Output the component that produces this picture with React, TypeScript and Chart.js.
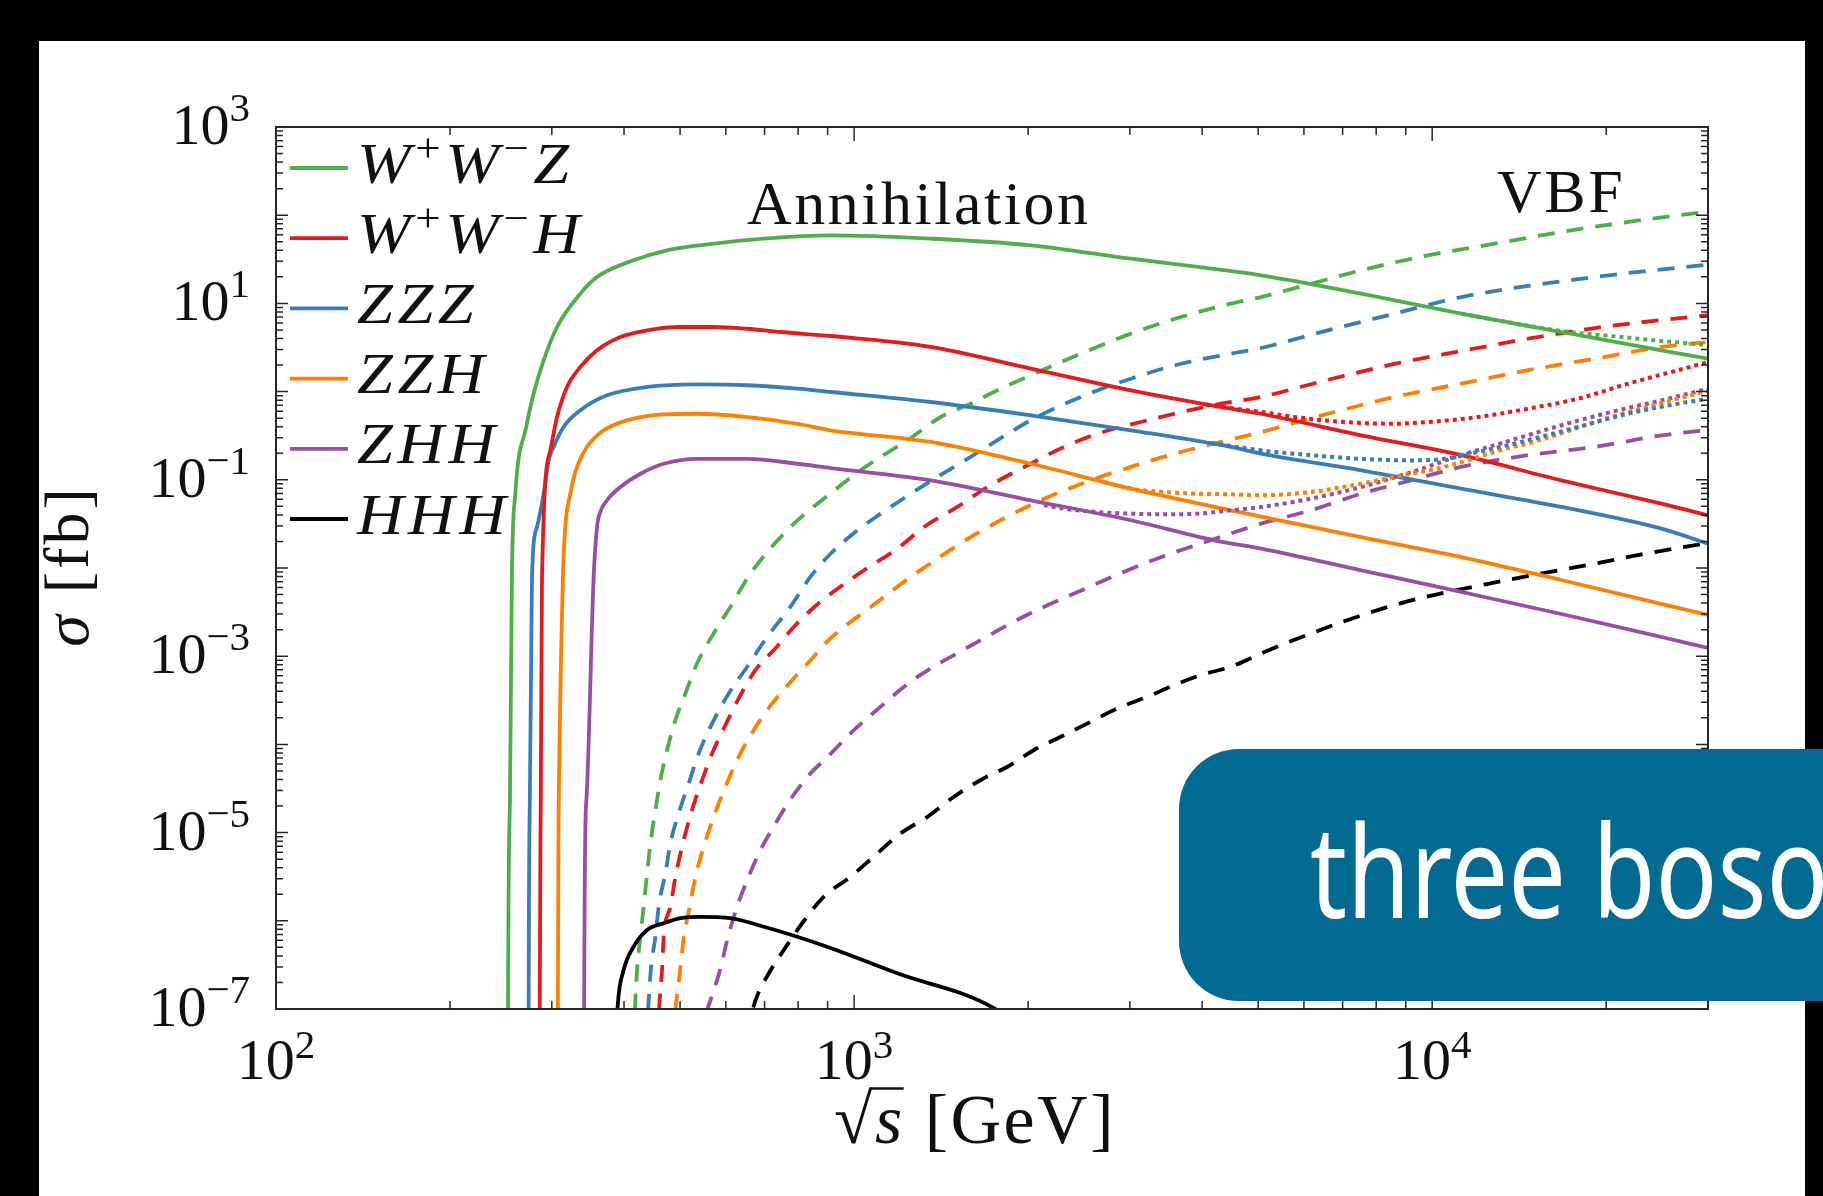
import React, { useEffect, useRef } from "react";
import { Chart, registerables } from "chart.js";

Chart.register(...registerables);

const W = 1823;
const H = 1196;

// ---------- axis settings ----------
const X_MIN = 100;
const X_MAX = 30000;
const Y_MIN = 1e-7;
const Y_MAX = 1e3;
const xTickValues = [100, 1000, 10000];
const xTickExps = ["2", "3", "4"];
const yTickValues = [1e3, 1e1, 1e-1, 1e-3, 1e-5, 1e-7];
const yTickExps = ["3", "1", "\u22121", "\u22123", "\u22125", "\u22127"];

// ---------- annihilation (solid) : sqrt(s) [GeV], sigma [fb] ----------
const wwzAnnE = [251.8, 252.0, 253.9, 255.9, 259.4, 270.9, 279, 290.4, 306.3, 336.1, 359.2, 415.6, 474.9, 571.8, 698, 910.7, 1357, 2021, 3011, 3930, 5057, 7537, 11226, 16730, 24920, 30000];
const wwzAnnS = [1e-9, 1e-7, 2.3e-5, 7.9e-3, 0.0695, 0.397, 0.946, 2.26, 5.4, 12.9, 19.9, 30.8, 40.0, 47.5, 54.2, 59.1, 54.2, 45.6, 32.1, 25.9, 20.8, 12.9, 7.64, 4.74, 2.94, 2.36];

const wwhAnnE = [285.7, 285.9, 287.1, 288.5, 298.2, 306.3, 318.7, 336.1, 359.2, 394.2, 438.5, 500.6, 571.8, 653.3, 745.9, 910.7, 1357, 2021, 3011, 4486, 5057, 7537, 11226, 16730, 24920, 30000];
const wwhAnnS = [1e-9, 1e-7, 2.3e-5, 7.9e-3, 0.216, 0.515, 1.13, 1.9, 2.94, 4.16, 4.95, 5.4, 5.4, 5.16, 4.74, 4.27, 3.21, 1.82, 1.035, 0.64, 0.561, 0.319, 0.19, 0.0986, 0.0536, 0.0395];

const zzzAnnE = [273.4, 273.6, 274.8, 277.2, 282.8, 290.4, 296.2, 302.2, 314.4, 336.1, 373.8, 438.5, 535.2, 653.3, 797.3, 910.7, 1357, 2021, 3011, 4486, 5057, 7537, 11226, 16730, 24920, 30000];
const zzzAnnS = [1e-9, 1e-7, 2.3e-5, 7.9e-3, 0.0292, 0.0695, 0.166, 0.236, 0.397, 0.614, 0.908, 1.13, 1.21, 1.18, 1.08, 0.99, 0.762, 0.538, 0.364, 0.236, 0.198, 0.128, 0.0793, 0.0492, 0.0279, 0.0189];

const zzhAnnE = [307.2, 307.3, 308.4, 313.6, 316.5, 322.9, 331.6, 345.1, 368.8, 404.9, 468.5, 535.2, 653.3, 797.3, 910.7, 1357, 2021, 3011, 4486, 7537, 11226, 16730, 30000];
const zzhAnnS = [1e-9, 1e-7, 2.3e-5, 7.9e-3, 0.0292, 0.0695, 0.14, 0.236, 0.364, 0.473, 0.553, 0.561, 0.515, 0.432, 0.364, 0.269, 0.152, 0.0793, 0.0451, 0.0224, 0.0133, 0.00731, 0.00293];

const zhhAnnE = [341.1, 341.2, 344.2, 354.4, 359.2, 363.9, 373.8, 394.2, 426.9, 468.5, 535.2, 653.3, 797.3, 910.7, 1357, 2021, 3011, 4198, 5057, 7537, 11226, 16730, 24920, 30000];
const zhhAnnS = [1e-9, 1e-7, 2.3e-5, 7.9e-3, 0.0292, 0.0431, 0.0586, 0.0828, 0.117, 0.152, 0.173, 0.173, 0.152, 0.136, 0.0986, 0.0586, 0.0348, 0.0206, 0.0166, 0.00942, 0.00535, 0.00301, 0.00165, 0.00124];

const hhhAnnE = [378, 389.9, 399.4, 415.6, 438.5, 468.5, 500.6, 542.3, 611.1, 698, 797.3, 910.7, 1188, 1746, 1850];
const hhhAnnS = [1e-9, 1.06e-7, 2.77e-7, 5.09e-7, 7.87e-7, 9.38e-7, 1.07e-6, 1.11e-6, 1.07e-6, 8.57e-7, 6.6e-7, 4.92e-7, 2.54e-7, 1.02e-7, 7.5e-8];

// ---------- VBF (dashed) ----------
const wwzVbfE = [415.1, 418.4, 421.3, 426.9, 432.5, 438.5, 444.3, 453.3, 462.3, 474.9, 490.9, 510.9, 535.2, 571.8, 611.1, 662.1, 776.3, 903.5, 1026, 1112, 1237, 1412, 1591, 1770, 2021, 2467, 3011, 3676, 4486, 5057, 6172, 7537, 9829, 12823, 16730, 21827, 30000];
const wwzVbfS = [4.5e-8, 1.26e-7, 2.77e-7, 6.6e-7, 1.45e-6, 3.46e-6, 7.57e-6, 1.8e-5, 3.95e-5, 8.64e-5, 1.89e-4, 3.8e-4, 8.31e-4, 1.82e-3, 3.64e-3, 8.67e-3, 0.0292, 0.0673, 0.128, 0.182, 0.281, 0.515, 0.73, 1.035, 1.53, 2.69, 4.54, 7.01, 9.93, 11.8, 16.7, 23.7, 35.1, 47.5, 64.6, 83.8, 110];

const zzzVbfE = [436.3, 441.3, 445.5, 453.3, 459.2, 471.6, 481.2, 497.3, 517.6, 538.7, 568.3, 607.2, 653.3, 707.6, 776.3, 840.8, 910.7, 1013, 1112, 1253, 1394, 1591, 1770, 2021, 2467, 3011, 3676, 4486, 5057, 6598, 8604, 11226, 19100, 30000];
const zzzVbfS = [4.5e-8, 1.26e-7, 3.02e-7, 6.6e-7, 1.45e-6, 3.46e-6, 7.57e-6, 1.66e-5, 3.62e-5, 7.93e-5, 1.73e-4, 3.8e-4, 7.6e-4, 1.66e-3, 3.64e-3, 7.98e-3, 0.0145, 0.0267, 0.0413, 0.0695, 0.108, 0.182, 0.281, 0.473, 0.869, 1.4, 2.07, 2.69, 3.12, 4.95, 7.64, 11.8, 19.9, 27.6];

const wwhVbfE = [456.8, 461.0, 465.5, 468.5, 481.2, 490.9, 504.1, 521.1, 542.3, 568.3, 599.1, 631.7, 675.4, 731.3, 792.0, 875.0, 1040, 1188, 1321, 1509, 1701, 2021, 2308, 2637, 3218, 4198, 5057, 6598, 8604, 11226, 14646, 19100, 30000];
const wwhVbfS = [4.5e-8, 1.26e-7, 2.89e-7, 6.6e-7, 1.45e-6, 3.16e-6, 6.92e-6, 1.58e-5, 3.47e-5, 7.93e-5, 1.66e-4, 3.33e-4, 6.98e-4, 1.23e-3, 2.26e-3, 4.15e-3, 9.42e-3, 0.0166, 0.0292, 0.0492, 0.0828, 0.152, 0.236, 0.333, 0.473, 0.705, 0.869, 1.36, 2.06, 2.88, 3.98, 5.26, 7.38];

const zzhVbfE = [483, 492.9, 500.6, 507.3, 519.6, 531.5, 549.4, 571.8, 599.1, 631.7, 670.9, 721.8, 781.7, 846.6, 904.5, 1068, 1253, 1591, 2021, 2467, 3011, 3676, 5057, 6598, 8604, 11226, 14646, 19100, 24920, 30000];
const zzhVbfS = [4.5e-8, 1.26e-7, 2.89e-7, 6.34e-7, 1.45e-6, 3.16e-6, 6.92e-6, 1.51e-5, 3.31e-5, 7.26e-5, 1.46e-4, 2.92e-4, 5.37e-4, 9.46e-4, 1.53e-3, 3.61e-3, 7.9e-3, 0.0224, 0.0518, 0.0895, 0.14, 0.207, 0.348, 0.561, 0.869, 1.23, 1.75, 2.36, 3.21, 3.65];

const zhhVbfE = [533.7, 564.4, 587.3, 603.2, 627.7, 653.3, 688.8, 731.3, 781.7, 840.8, 907.1, 986.1, 1112, 1220, 1357, 1509, 1678, 1866, 2103, 2371, 2637, 2932, 3440, 4198, 5057, 6172, 7537, 9198, 11226, 14646, 19100, 24920, 30000];
const zhhVbfS = [4.45e-8, 1.26e-7, 2.89e-7, 6.05e-7, 1.45e-6, 2.9e-6, 6.35e-6, 1.27e-5, 2.55e-5, 4.7e-5, 7.59e-5, 1.34e-4, 2.68e-4, 4.51e-4, 7.29e-4, 1.08e-3, 1.6e-3, 2.36e-3, 3.49e-3, 4.94e-3, 6.71e-3, 9.08e-3, 0.0137, 0.0213, 0.0318, 0.0451, 0.0695, 0.0986, 0.14, 0.19, 0.236, 0.319, 0.367];

const hhhVbfE = [650, 675.4, 712.0, 755.9, 813.2, 886.7, 986.1, 1097, 1204, 1339, 1489, 1656, 1842, 2048, 2278, 2568, 2856, 3218, 3579, 3981, 4486, 4991, 5477, 8663, 13754, 19100, 23320, 30000];
const hhhVbfS = [5e-8, 1.26e-7, 2.54e-7, 4.67e-7, 9.38e-7, 1.88e-6, 3.16e-6, 5.82e-6, 9.82e-6, 1.51e-5, 2.55e-5, 3.95e-5, 5.58e-5, 8.64e-5, 1.22e-4, 1.81e-4, 2.56e-4, 3.47e-4, 4.71e-4, 6.12e-4, 7.6e-4, 1.03e-3, 1.34e-3, 3.85e-3, 7.5e-3, 0.0112, 0.0145, 0.0192];

// ---------- dotted curves ----------
const wwzDotE = [11226, 16730, 21250, 24920, 30000];
const wwzDotS = [7.64, 4.86, 4.16, 3.75, 3.37];

const wwhDotE = [4062, 5057, 5776, 7050, 8604, 9829, 11999, 14646, 17877, 21827, 26650, 30000];
const wwhDotS = [0.705, 0.588, 0.515, 0.452, 0.432, 0.452, 0.515, 0.64, 0.83, 1.23, 1.75, 2.17];

const zzzDotE = [4143, 5057, 6172, 7537, 9198, 10505, 11999, 14646, 17877, 21827, 26650, 30000];
const zzzDotS = [0.261, 0.216, 0.19, 0.173, 0.166, 0.173, 0.207, 0.281, 0.397, 0.561, 0.73, 0.83];

const zzhDotE = [2707, 3011, 3440, 3930, 4486, 5057, 6172, 7537, 8604, 10505, 12823, 15650, 19620, 24920, 30000];
const zzhDotS = [0.0944, 0.0793, 0.0728, 0.0695, 0.0685, 0.0668, 0.0728, 0.0904, 0.108, 0.14, 0.207, 0.292, 0.476, 0.743, 1.02];

const zhhDotE = [2129, 2308, 2637, 3011, 3440, 3930, 4486, 5057, 6172, 7537, 9198, 11226, 13702, 16730, 20420, 24920, 30000];
const zhhDotS = [0.0518, 0.047, 0.0431, 0.0413, 0.0407, 0.0413, 0.0451, 0.0492, 0.0611, 0.0828, 0.122, 0.19, 0.281, 0.415, 0.588, 0.796, 1.08];

// ---------- styling ----------
const GREEN = "#4daf4a";
const RED = "#e41a1c";
const BLUE = "#377eb8";
const ORANGE = "#ff7f00";
const PURPLE = "#984ea3";
const BLACK = "#000000";

const legendColors = [GREEN, RED, BLUE, ORANGE, PURPLE, BLACK];
type Part = { t: string; sup?: boolean; it?: boolean };
const legendLabels: Part[][] = [
  [{ t: "W" }, { t: "+", sup: true, it: false }, { t: "W" }, { t: "\u2212", sup: true, it: false }, { t: "Z" }],
  [{ t: "W" }, { t: "+", sup: true, it: false }, { t: "W" }, { t: "\u2212", sup: true, it: false }, { t: "H" }],
  [{ t: "ZZZ" }],
  [{ t: "ZZH" }],
  [{ t: "ZHH" }],
  [{ t: "HHH" }],
];

type Style = "solid" | "dash" | "dot";
const SERIES: { e: number[]; s: number[]; c: string; st: Style }[] = [
  { e: wwzDotE, s: wwzDotS, c: GREEN, st: "dot" },
  { e: wwhDotE, s: wwhDotS, c: RED, st: "dot" },
  { e: zzzDotE, s: zzzDotS, c: BLUE, st: "dot" },
  { e: zzhDotE, s: zzhDotS, c: ORANGE, st: "dot" },
  { e: zhhDotE, s: zhhDotS, c: PURPLE, st: "dot" },
  { e: wwzAnnE, s: wwzAnnS, c: GREEN, st: "solid" },
  { e: wwhAnnE, s: wwhAnnS, c: RED, st: "solid" },
  { e: zzzAnnE, s: zzzAnnS, c: BLUE, st: "solid" },
  { e: zzhAnnE, s: zzhAnnS, c: ORANGE, st: "solid" },
  { e: zhhAnnE, s: zhhAnnS, c: PURPLE, st: "solid" },
  { e: hhhAnnE, s: hhhAnnS, c: BLACK, st: "solid" },
  { e: wwzVbfE, s: wwzVbfS, c: GREEN, st: "dash" },
  { e: zzzVbfE, s: zzzVbfS, c: BLUE, st: "dash" },
  { e: wwhVbfE, s: wwhVbfS, c: RED, st: "dash" },
  { e: zzhVbfE, s: zzhVbfS, c: ORANGE, st: "dash" },
  { e: zhhVbfE, s: zhhVbfS, c: PURPLE, st: "dash" },
  { e: hhhVbfE, s: hhhVbfS, c: BLACK, st: "dash" },
];

const SERIF = '"Liberation Serif", "DejaVu Serif", serif';
const TXT = "#111111";

function drawRich(
  ctx: CanvasRenderingContext2D,
  parts: Part[],
  x: number,
  y: number,
  o: { size: number; italic?: boolean; ls?: number; align?: "left" | "center" | "right"; supScale?: number; supRise?: number; sx?: number; family?: string }
) {
  const sx = o.sx ?? 1;
  const supScale = o.supScale ?? 0.7;
  const rise = o.supRise ?? o.size * 0.4;
  const fam = o.family ?? SERIF;
  const fontOf = (p: Part) =>
    `${(p.it ?? o.italic) ? "italic " : ""}${p.sup ? Math.round(o.size * supScale) : o.size}px ${fam}`;
  ctx.save();
  (ctx as any).letterSpacing = `${o.ls ?? 0}px`;
  ctx.textAlign = "left";
  ctx.textBaseline = "alphabetic";
  const widths = parts.map((p) => {
    ctx.font = fontOf(p);
    return ctx.measureText(p.t).width * sx;
  });
  const total = widths.reduce((a, b) => a + b, 0);
  let cx = o.align === "center" ? x - total / 2 : o.align === "right" ? x - total : x;
  const segs: number[][] = [];
  parts.forEach((p, i) => {
    ctx.font = fontOf(p);
    ctx.save();
    ctx.translate(cx, p.sup ? y - rise : y);
    ctx.scale(sx, 1);
    ctx.fillText(p.t, 0, 0);
    ctx.restore();
    segs.push([cx, cx + widths[i]]);
    cx += widths[i];
  });
  ctx.restore();
  return segs;
}

const decorPlugin = {
  id: "decor",
  beforeDraw(chart: any) {
    const ctx: CanvasRenderingContext2D = chart.ctx;
    ctx.save();
    ctx.fillStyle = "#000";
    ctx.fillRect(0, 0, W, H);
    ctx.fillStyle = "#fff";
    ctx.fillRect(39, 41, 1805 - 39, H - 41);
    ctx.restore();
  },
  afterDraw(chart: any) {
    const ctx: CanvasRenderingContext2D = chart.ctx;
    const xs = chart.scales.x;
    const ys = chart.scales.y;
    const { left, right, top, bottom } = chart.chartArea;
    ctx.save();

    // frame
    ctx.strokeStyle = "#262626";
    ctx.lineWidth = 2;
    ctx.strokeRect(left, top, right - left, bottom - top);

    // ticks
    ctx.lineWidth = 1.5;
    ctx.beginPath();
    for (let d = 2; d <= 4; d++) {
      for (let m = 1; m <= 9; m++) {
        const v = m * Math.pow(10, d);
        if (v > X_MAX) break;
        const px = xs.getPixelForValue(v);
        const len = m === 1 ? 14 : 8;
        ctx.moveTo(px, bottom);
        ctx.lineTo(px, bottom - len);
        ctx.moveTo(px, top);
        ctx.lineTo(px, top + len);
      }
    }
    for (let e = -7; e <= 3; e++) {
      for (let m = 1; m <= 9; m++) {
        const v = m * Math.pow(10, e);
        if (v > Y_MAX * 1.0001) break;
        const py = ys.getPixelForValue(v);
        const len = m === 1 ? 12 : 7;
        ctx.moveTo(left, py);
        ctx.lineTo(left + len, py);
        ctx.moveTo(right, py);
        ctx.lineTo(right - len, py);
      }
    }
    ctx.stroke();

    // tick labels
    ctx.fillStyle = TXT;
    xTickValues.forEach((v, i) => {
      const px = xs.getPixelForValue(v);
      drawRich(ctx, [{ t: "10" }, { t: xTickExps[i], sup: true }], px, bottom + 70, { size: 58, align: "center", supRise: 21 });
    });
    yTickValues.forEach((v, i) => {
      const py = ys.getPixelForValue(v);
      drawRich(ctx, [{ t: "10" }, { t: yTickExps[i], sup: true }], left - 26, py + 17, { size: 58, align: "right", supRise: 23 });
    });

    // x-axis title  sqrt(s) [GeV]
    const tb = bottom + 134;
    const segs = drawRich(ctx, [{ t: "\u221A" }, { t: "s", it: true }, { t: " [GeV]" }], 975, tb, {
      size: 70,
      ls: 2.5,
      align: "center",
    });
    ctx.font = `70px ${SERIF}`;
    const asc = ctx.measureText("\u221A").actualBoundingBoxAscent;
    ctx.strokeStyle = TXT;
    ctx.lineWidth = 2.5;
    ctx.beginPath();
    const vy = tb - asc + 1.5;
    ctx.moveTo(segs[0][1] - 5, vy);
    ctx.lineTo(segs[1][1] - 1, vy);
    ctx.stroke();

    // y-axis title
    ctx.save();
    ctx.translate(88, (top + bottom) / 2 - 2);
    ctx.rotate(-Math.PI / 2);
    drawRich(ctx, [{ t: "\u03C3", it: true }, { t: " [fb]" }], 0, 0, { size: 64, ls: 3, align: "center" });
    ctx.restore();

    // annotations
    drawRich(ctx, [{ t: "Annihilation" }], 747, 224, { size: 62, ls: 2.5 });
    drawRich(ctx, [{ t: "VBF" }], 1497, 212, { size: 62, ls: 2.5 });

    // legend
    legendLabels.forEach((lab, i) => {
      const ly = top + 41 + i * 70.2;
      ctx.strokeStyle = legendColors[i];
      ctx.lineWidth = 3.8;
      ctx.setLineDash([]);
      ctx.beginPath();
      ctx.moveTo(left + 14, ly);
      ctx.lineTo(left + 72, ly);
      ctx.stroke();
      ctx.fillStyle = TXT;
      drawRich(ctx, lab, left + 81, ly + 14.5, { size: 56, italic: true, ls: 4, sx: 1.15, supRise: 22 });
    });

    // overlay banner
    ctx.fillStyle = "#036b92";
    ctx.beginPath();
    (ctx as any).roundRect(1179, 749, 1000, 252, 60);
    ctx.fill();
    ctx.fillStyle = "#ffffff";
    ctx.save();
    ctx.translate(1310, 918);
    ctx.scale(0.8, 1);
    ctx.font = `128px "Noto Sans", "Open Sans", sans-serif`;
    ctx.textBaseline = "alphabetic";
    ctx.fillText("three bosons", 0, 0);
    ctx.restore();

    ctx.restore();
  },
};

export default function App() {
  const ref = useRef<HTMLCanvasElement>(null);
  useEffect(() => {
    document.body.style.margin = "0";
    document.body.style.background = "#000";
    document.body.style.overflow = "hidden";
    const canvas = ref.current!;
    canvas.width = W;
    canvas.height = H;
    const datasets = SERIES.map((sr) => ({
      data: sr.e.map((e, i) => ({ x: e, y: sr.s[i] })),
      borderColor: sr.c,
      backgroundColor: sr.c,
      borderWidth: sr.st === "dot" ? 4 : 3.8,
      borderDash: sr.st === "dash" ? [17, 12] : sr.st === "dot" ? [4, 4] : [],
      borderCapStyle: "butt" as const,
      borderJoinStyle: "round" as const,
      pointRadius: 0,
      pointHoverRadius: 0,
      fill: false,
      cubicInterpolationMode: "monotone" as const,
    }));
    const chart = new Chart(canvas, {
      type: "line",
      data: { datasets },
      options: {
        responsive: false,
        animation: false,
        devicePixelRatio: 1,
        events: [],
        layout: { padding: { left: 276, top: 127, right: W - 1708, bottom: H - 1009 } },
        plugins: { legend: { display: false }, tooltip: { enabled: false } },
        scales: {
          x: { type: "logarithmic", min: X_MIN, max: X_MAX, display: false },
          y: { type: "logarithmic", min: Y_MIN, max: Y_MAX, display: false },
        },
      },
      plugins: [decorPlugin],
    });
    return () => chart.destroy();
  }, []);
  return <canvas ref={ref} width={W} height={H} style={{ display: "block", width: W, height: H }} />;
}
